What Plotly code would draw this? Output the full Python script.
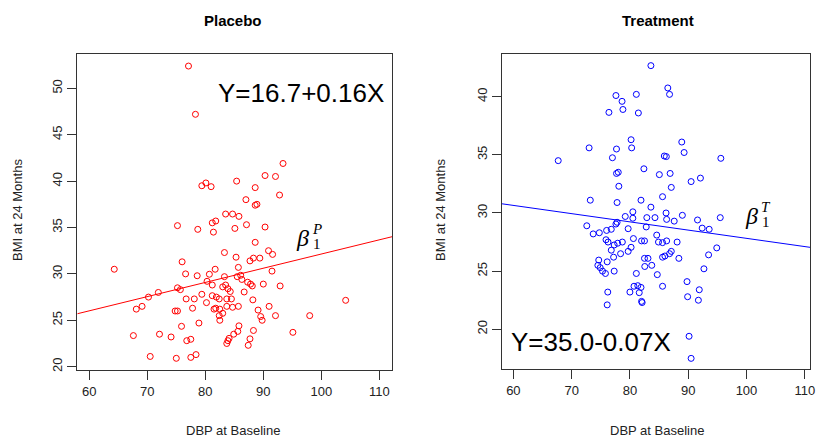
import plotly.graph_objects as go

# ---------------- data ----------------
placebo_dbp = [77.1, 78.3, 79.4, 80.1, 81.0, 85.4,
               83.5, 84.7, 85.8, 75.2, 81.2, 81.8, 81.4, 78.7, 85.1, 83.3, 76.0, 85.3, 85.7, 64.3,
               76.6, 78.6, 80.7, 81.7, 83.3, 85.5, 80.3, 81.2, 75.2, 75.7, 71.9, 70.2, 83.0, 83.5,
               83.9, 84.3, 79.4, 81.2, 81.9, 82.4, 83.7, 84.5, 76.7, 78.1, 80.2, 68.1, 69.1, 74.8,
               75.2, 77.8, 81.5, 81.8, 82.5, 83.7, 84.7, 85.7, 83.0, 82.4, 82.5, 75.9, 78.9, 85.8,
               84.9, 85.6, 67.6, 72.1, 74.1, 76.8, 77.5, 84.1, 83.9, 83.7, 70.5, 75.0, 77.5, 78.4,
               93.4, 90.3, 92.1, 88.6, 92.8, 87.0, 88.6, 88.9, 87.1, 90.3, 88.6, 90.9, 91.6, 89.4,
               88.3, 87.7, 91.5, 86.1, 86.3, 87.3, 87.8, 88.1, 90.0, 92.9, 86.7, 88.2, 89.1, 91.0,
               104.2, 89.55, 89.8, 92.1, 98.0, 88.3, 95.1, 87.7, 87.4]
placebo_bmi = [52.4, 47.2, 39.5, 39.8, 39.4, 40.0,
               36.45, 36.45, 36.2, 35.2, 35.5, 35.7, 34.5, 34.8, 34.9, 32.3, 31.3, 31.8, 30.7, 30.5,
               30.0, 29.8, 29.96, 30.5, 29.7, 29.7, 29.2, 28.8, 28.5, 28.3, 28.0, 27.5, 28.6, 28.8,
               28.4, 28.1, 27.8, 27.65, 27.5, 27.3, 27.3, 27.3, 27.3, 27.3, 26.9, 26.2, 26.5, 26.0,
               26.0, 26.3, 26.2, 26.3, 26.2, 26.5, 26.4, 26.5, 25.75, 25.5, 25.0, 24.35, 24.7, 24.4,
               23.5, 23.8, 23.35, 23.5, 23.2, 22.8, 22.95, 23.05, 22.8, 22.5, 21.1, 20.9, 21.0, 21.3,
               41.9, 40.6, 40.5, 39.3, 38.5, 38.0, 37.4, 37.5, 35.3, 35.05, 33.4, 32.5, 32.1, 31.7,
               31.7, 31.4, 30.3, 29.85, 29.4, 29.1, 28.9, 28.7, 28.9, 28.7, 28.05, 27.2, 26.1, 26.5,
               27.15, 25.4, 25.0, 25.5, 25.5, 23.9, 23.7, 23.0, 22.3]

treatment_dbp = [83.6, 77.6, 78.65, 81.1, 78.8, 76.4, 81.45, 80.2, 80.3, 73.0, 77.7, 67.7, 77.0,
                 77.7, 78.0, 82.4, 85.05, 78.1, 73.2, 77.8, 81.9, 83.6, 80.5, 79.2,
                 80.5, 82.9, 84.3, 77.8, 77.6, 72.6, 79.7, 82.8, 76.0, 76.8, 74.75, 73.7, 84.6, 80.6,
                 75.9, 76.25, 78.7, 77.9, 77.3, 82.0, 82.5, 84.9, 80.2, 76.8, 79.7, 78.4, 77.2, 82.5,
                 83.1, 74.65, 76.1, 74.5, 82.55, 83.75, 74.9, 75.3, 75.8, 77.3, 81.1, 84.7, 80.7,
                 81.35, 81.9, 80.0, 81.6, 76.2, 82.0, 82.1, 76.1,
                 86.5, 86.8, 88.9, 89.3, 85.9, 86.25, 95.6, 86.9, 92.1, 90.5, 87.1, 85.6, 86.2, 89.0,
                 95.5, 86.3, 87.6, 91.6, 92.4, 93.6, 85.6, 86.3, 88.1, 94.9, 87.1, 86.8, 86.0, 85.6,
                 88.4, 93.5, 92.7, 85.6, 89.8, 89.9, 91.9, 91.75, 90.15, 90.5]
treatment_bmi = [42.67, 40.1, 39.6, 40.2, 38.9, 38.65, 38.6, 36.3, 35.6, 35.6, 35.5, 34.5, 34.75,
                 33.4, 33.5, 33.8, 33.3, 32.3, 31.1, 30.9, 31.1, 30.5, 30.1, 29.7,
                 29.55, 29.6, 29.6, 29.2, 29.05, 28.9, 28.65, 28.8, 28.5, 28.6, 28.3, 28.2, 28.1, 27.8,
                 27.7, 27.5, 27.5, 27.4, 27.25, 27.6, 27.6, 27.5, 27.05, 26.8, 26.7, 26.5, 26.2, 26.1,
                 26.1, 25.95, 25.8, 25.5, 25.4, 25.5, 25.3, 25.0, 24.8, 25.0, 24.8, 24.7, 23.7,
                 23.75, 23.6, 23.2, 23.15, 23.2, 22.4, 22.3, 22.1,
                 40.75, 40.2, 36.1, 35.2, 34.9, 34.85, 34.7, 33.4, 33.0, 32.7, 32.2, 31.4, 30.0, 29.8,
                 29.6, 29.45, 29.3, 29.4, 28.7, 28.6, 27.45, 27.6, 27.5, 27.0, 26.7, 26.5, 26.3, 26.2,
                 26.1, 26.4, 25.2, 23.7, 24.1, 22.8, 23.4, 22.5, 19.4, 17.5]

# fitted lines (intercept, slope) as drawn
placebo_fit = (16.84, 0.153)
treatment_fit = (34.9, -0.0708)

panel_titles = ["Placebo", "Treatment"]
x_title = "DBP at Baseline"
y_title = "BMI at 24 Months"
equations = ["Y=16.7+0.16X", "Y=35.0-0.07X"]
x_ticks = [60, 70, 80, 90, 100, 110]
y_ticks_placebo = [20, 25, 30, 35, 40, 45, 50]
y_ticks_treatment = [20, 25, 30, 35, 40]

# ---------------- layout helpers ----------------
W, H = 816, 437
def PX(x):
    return x / W
def PY(y):
    return 1 - y / H

xr1 = [57.93, 112.24]
yr1 = [19.64, 53.70]
xr2 = [58.0, 110.9]
yr2 = [16.56, 43.67]

fig = go.Figure()

RED = "#FF0000"
BLUE = "#0000FF"

fig.add_trace(go.Scatter(x=placebo_dbp, y=placebo_bmi, mode="markers",
                         marker=dict(symbol="circle-open", size=6, color=RED, line=dict(width=1, color=RED)),
                         xaxis="x", yaxis="y", showlegend=False, hoverinfo="skip"))
fig.add_trace(go.Scatter(x=xr1, y=[placebo_fit[0] + placebo_fit[1] * v for v in xr1], mode="lines",
                         line=dict(color=RED, width=1), xaxis="x", yaxis="y", showlegend=False, hoverinfo="skip"))
fig.add_trace(go.Scatter(x=treatment_dbp, y=treatment_bmi, mode="markers",
                         marker=dict(symbol="circle-open", size=6, color=BLUE, line=dict(width=1, color=BLUE)),
                         xaxis="x2", yaxis="y2", showlegend=False, hoverinfo="skip"))
fig.add_trace(go.Scatter(x=xr2, y=[treatment_fit[0] + treatment_fit[1] * v for v in xr2], mode="lines",
                         line=dict(color=BLUE, width=1), xaxis="x2", yaxis="y2", showlegend=False, hoverinfo="skip"))

AX = "#333333"
tickfont = dict(family="Liberation Sans, Arial, sans-serif", size=13, color="#222222")
common = dict(showgrid=False, zeroline=False, showline=True, mirror=True, linecolor=AX, linewidth=1,
              ticks="outside", ticklen=9, tickcolor=AX, tickwidth=1, tickfont=tickfont, fixedrange=True,
              automargin=False)

fig.update_layout(
    width=W, height=H,
    margin=dict(l=0, r=0, t=0, b=0, pad=0, autoexpand=False),
    paper_bgcolor="white", plot_bgcolor="white",
    xaxis=dict(domain=[PX(77.3), PX(392.3)], range=xr1, tickvals=x_ticks, anchor="y", **common),
    yaxis=dict(domain=[PY(370), PY(54)], range=yr1, tickvals=y_ticks_placebo, tickangle=-90, anchor="x", **common),
    xaxis2=dict(domain=[PX(501.7), PX(810)], range=xr2, tickvals=x_ticks, anchor="y2", **common),
    yaxis2=dict(domain=[PY(369.3), PY(54)], range=yr2, tickvals=y_ticks_treatment, tickangle=-90, anchor="x2", **common),
)

lab = dict(family="Liberation Sans, Arial, sans-serif", size=13, color="#222222")
ann = []
# panel titles
ann.append(dict(text="<b>" + panel_titles[0] + "</b>", x=PX(233), y=PY(20.5), xref="paper", yref="paper",
                showarrow=False, xanchor="center", yanchor="middle",
                font=dict(family="Liberation Sans, Arial, sans-serif", size=15, color="black")))
ann.append(dict(text="<b>" + panel_titles[1] + "</b>", x=PX(658), y=PY(20.5), xref="paper", yref="paper",
                showarrow=False, xanchor="center", yanchor="middle",
                font=dict(family="Liberation Sans, Arial, sans-serif", size=15, color="black")))
# axis titles
for cx in (233, 657):
    ann.append(dict(text=x_title, x=PX(cx), y=PY(430), xref="paper", yref="paper", showarrow=False,
                    xanchor="center", yanchor="middle", font=lab))
for cx in (17, 440):
    ann.append(dict(text=y_title, x=PX(cx), y=PY(210), xref="paper", yref="paper", showarrow=False,
                    xanchor="center", yanchor="middle", textangle=-90, font=lab))
# equations
eqfont = dict(family="Liberation Sans, Arial, sans-serif", size=26, color="black")
ann.append(dict(text=equations[0], x=PX(301), y=PY(93), xref="paper", yref="paper", showarrow=False,
                xanchor="center", yanchor="middle", font=eqfont))
ann.append(dict(text=equations[1], x=PX(591), y=PY(342), xref="paper", yref="paper", showarrow=False,
                xanchor="center", yanchor="middle", font=eqfont))
# beta labels
bfont = dict(family="Liberation Serif, DejaVu Serif, serif", size=24, color="black")
sfont = dict(family="Liberation Serif, DejaVu Serif, serif", size=15, color="black")
for (bx, by, sup) in ((302, 238, "P"), (751, 216, "T")):
    ann.append(dict(text="<i>β</i>", x=PX(bx), y=PY(by), xref="paper", yref="paper", showarrow=False,
                    xanchor="center", yanchor="middle", font=bfont))
    ann.append(dict(text="1", x=PX(bx + 9), y=PY(by + 6), xref="paper", yref="paper", showarrow=False,
                    xanchor="left", yanchor="middle", font=sfont))
    ann.append(dict(text="<i>" + sup + "</i>", x=PX(bx + 8), y=PY(by - 9), xref="paper", yref="paper",
                    showarrow=False, xanchor="left", yanchor="middle", font=sfont))

fig.update_layout(annotations=ann)
fig.write_html("out.html", config={"displayModeBar": False, "staticPlot": True},
               post_script="document.body.style.margin='0px';document.body.style.overflow='hidden';")
